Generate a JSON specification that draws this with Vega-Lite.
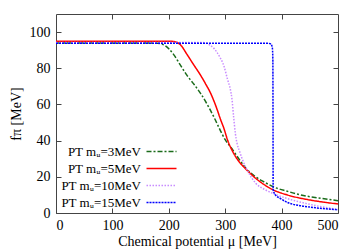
{
  "$schema": "https://vega.github.io/schema/vega-lite/v6.json",
  "width": 282,
  "height": 199,
  "autosize": "none",
  "padding": {"left": 56, "top": 14, "right": 20, "bottom": 38},
  "background": "white",
  "config": {
    "font": "Liberation Serif",
    "view": {"stroke": "#444", "strokeWidth": 1},
    "axis": {
      "grid": false,
      "domain": false,
      "tickColor": "#444",
      "tickSize": -5,
      "labelFont": "Liberation Serif",
      "labelFontSize": 14,
      "labelColor": "#000",
      "titleFont": "Liberation Serif",
      "titleFontSize": 14,
      "titleFontWeight": "normal",
      "titleColor": "#000"
    }
  },
  "datasets": {
    "curves": [
      {"mu": 0, "f": 94.0, "s": "PT mᵤ=3MeV"},
      {"mu": 150, "f": 94.0, "s": "PT mᵤ=3MeV"},
      {"mu": 180, "f": 93.8, "s": "PT mᵤ=3MeV"},
      {"mu": 190, "f": 93.1, "s": "PT mᵤ=3MeV"},
      {"mu": 200, "f": 90.8, "s": "PT mᵤ=3MeV"},
      {"mu": 210, "f": 87.0, "s": "PT mᵤ=3MeV"},
      {"mu": 220, "f": 82.0, "s": "PT mᵤ=3MeV"},
      {"mu": 232, "f": 76.2, "s": "PT mᵤ=3MeV"},
      {"mu": 245, "f": 71.0, "s": "PT mᵤ=3MeV"},
      {"mu": 256, "f": 66.3, "s": "PT mᵤ=3MeV"},
      {"mu": 270, "f": 59.0, "s": "PT mᵤ=3MeV"},
      {"mu": 280, "f": 53.0, "s": "PT mᵤ=3MeV"},
      {"mu": 290, "f": 46.5, "s": "PT mᵤ=3MeV"},
      {"mu": 300, "f": 40.5, "s": "PT mᵤ=3MeV"},
      {"mu": 312, "f": 35.5, "s": "PT mᵤ=3MeV"},
      {"mu": 324, "f": 30.0, "s": "PT mᵤ=3MeV"},
      {"mu": 336, "f": 25.0, "s": "PT mᵤ=3MeV"},
      {"mu": 354, "f": 20.0, "s": "PT mᵤ=3MeV"},
      {"mu": 370, "f": 17.0, "s": "PT mᵤ=3MeV"},
      {"mu": 385, "f": 14.5, "s": "PT mᵤ=3MeV"},
      {"mu": 410, "f": 12.0, "s": "PT mᵤ=3MeV"},
      {"mu": 443, "f": 9.4, "s": "PT mᵤ=3MeV"},
      {"mu": 470, "f": 8.1, "s": "PT mᵤ=3MeV"},
      {"mu": 500, "f": 6.8, "s": "PT mᵤ=3MeV"},

      {"mu": 0, "f": 95.0, "s": "PT mᵤ=5MeV"},
      {"mu": 200, "f": 95.0, "s": "PT mᵤ=5MeV"},
      {"mu": 212, "f": 94.6, "s": "PT mᵤ=5MeV"},
      {"mu": 222, "f": 92.5, "s": "PT mᵤ=5MeV"},
      {"mu": 232, "f": 87.8, "s": "PT mᵤ=5MeV"},
      {"mu": 244, "f": 82.0, "s": "PT mᵤ=5MeV"},
      {"mu": 256, "f": 76.3, "s": "PT mᵤ=5MeV"},
      {"mu": 265, "f": 71.5, "s": "PT mᵤ=5MeV"},
      {"mu": 274, "f": 66.3, "s": "PT mᵤ=5MeV"},
      {"mu": 283, "f": 59.5, "s": "PT mᵤ=5MeV"},
      {"mu": 292, "f": 51.5, "s": "PT mᵤ=5MeV"},
      {"mu": 298, "f": 46.5, "s": "PT mᵤ=5MeV"},
      {"mu": 304, "f": 40.5, "s": "PT mᵤ=5MeV"},
      {"mu": 315, "f": 33.0, "s": "PT mᵤ=5MeV"},
      {"mu": 325, "f": 28.2, "s": "PT mᵤ=5MeV"},
      {"mu": 336, "f": 24.5, "s": "PT mᵤ=5MeV"},
      {"mu": 354, "f": 19.2, "s": "PT mᵤ=5MeV"},
      {"mu": 370, "f": 15.5, "s": "PT mᵤ=5MeV"},
      {"mu": 385, "f": 12.8, "s": "PT mᵤ=5MeV"},
      {"mu": 410, "f": 10.0, "s": "PT mᵤ=5MeV"},
      {"mu": 443, "f": 7.6, "s": "PT mᵤ=5MeV"},
      {"mu": 470, "f": 6.2, "s": "PT mᵤ=5MeV"},
      {"mu": 500, "f": 5.0, "s": "PT mᵤ=5MeV"},

      {"mu": 0, "f": 94.2, "s": "PT mᵤ=10MeV"},
      {"mu": 260, "f": 94.2, "s": "PT mᵤ=10MeV"},
      {"mu": 272, "f": 93.0, "s": "PT mᵤ=10MeV"},
      {"mu": 280, "f": 91.0, "s": "PT mᵤ=10MeV"},
      {"mu": 289, "f": 87.0, "s": "PT mᵤ=10MeV"},
      {"mu": 298, "f": 81.0, "s": "PT mᵤ=10MeV"},
      {"mu": 304, "f": 74.0, "s": "PT mᵤ=10MeV"},
      {"mu": 309, "f": 68.5, "s": "PT mᵤ=10MeV"},
      {"mu": 312, "f": 63.0, "s": "PT mᵤ=10MeV"},
      {"mu": 315, "f": 53.0, "s": "PT mᵤ=10MeV"},
      {"mu": 318, "f": 44.0, "s": "PT mᵤ=10MeV"},
      {"mu": 321, "f": 38.5, "s": "PT mᵤ=10MeV"},
      {"mu": 325, "f": 34.5, "s": "PT mᵤ=10MeV"},
      {"mu": 330, "f": 30.0, "s": "PT mᵤ=10MeV"},
      {"mu": 336, "f": 25.5, "s": "PT mᵤ=10MeV"},
      {"mu": 342, "f": 22.0, "s": "PT mᵤ=10MeV"},
      {"mu": 354, "f": 16.5, "s": "PT mᵤ=10MeV"},
      {"mu": 370, "f": 13.0, "s": "PT mᵤ=10MeV"},
      {"mu": 385, "f": 10.8, "s": "PT mᵤ=10MeV"},
      {"mu": 410, "f": 8.0, "s": "PT mᵤ=10MeV"},
      {"mu": 443, "f": 5.3, "s": "PT mᵤ=10MeV"},
      {"mu": 470, "f": 3.5, "s": "PT mᵤ=10MeV"},
      {"mu": 500, "f": 2.0, "s": "PT mᵤ=10MeV"},

      {"mu": 0, "f": 93.8, "s": "PT mᵤ=15MeV"},
      {"mu": 376, "f": 93.8, "s": "PT mᵤ=15MeV"},
      {"mu": 381, "f": 93.4, "s": "PT mᵤ=15MeV"},
      {"mu": 383.5, "f": 91.5, "s": "PT mᵤ=15MeV"},
      {"mu": 384.5, "f": 85.0, "s": "PT mᵤ=15MeV"},
      {"mu": 384.8, "f": 50.0, "s": "PT mᵤ=15MeV"},
      {"mu": 385.0, "f": 13.0, "s": "PT mᵤ=15MeV"},
      {"mu": 388, "f": 10.5, "s": "PT mᵤ=15MeV"},
      {"mu": 398, "f": 8.0, "s": "PT mᵤ=15MeV"},
      {"mu": 413, "f": 5.5, "s": "PT mᵤ=15MeV"},
      {"mu": 434, "f": 4.0, "s": "PT mᵤ=15MeV"},
      {"mu": 460, "f": 2.9, "s": "PT mᵤ=15MeV"},
      {"mu": 500, "f": 1.8, "s": "PT mᵤ=15MeV"}
    ]
  },
  "data": {"name": "curves"},
  "layer": [
    {
      "mark": {"type": "line", "interpolate": "monotone", "strokeWidth": 1.5, "clip": true},
      "encoding": {
        "x": {
          "field": "mu", "type": "quantitative",
          "scale": {"domain": [0, 500], "nice": false},
          "axis": {"values": [0, 100, 200, 300, 400, 500], "title": "Chemical potential μ [MeV]", "labelPadding": 10, "titlePadding": 2}
        },
        "y": {
          "field": "f", "type": "quantitative",
          "scale": {"domain": [0, 110], "nice": false},
          "axis": {"values": [0, 20, 40, 60, 80, 100], "title": "fπ [MeV]", "labelPadding": 11, "titlePadding": 6}
        },
        "color": {
          "field": "s", "type": "nominal",
          "scale": {
            "domain": ["PT mᵤ=3MeV", "PT mᵤ=5MeV", "PT mᵤ=10MeV", "PT mᵤ=15MeV"],
            "range": ["#1a6b1a", "#ff0000", "#c88cff", "#0000ff"]
          },
          "legend": {
            "orient": "none",
            "legendX": 6,
            "legendY": 131,
            "direction": "vertical",
            "columns": 1,
            "title": null,
            "padding": 0,
            "symbolType": "M-3,0H3",
            "symbolSize": 100,
            "symbolStrokeWidth": 1.5,
            "symbolOffset": 93,
            "labelAlign": "right",
            "labelOffset": -27,
            "labelFont": "Liberation Serif",
            "labelFontSize": 13,
            "labelColor": "#000",
            "labelLimit": 200,
            "rowPadding": 3
          }
        },
        "strokeDash": {
          "field": "s", "type": "nominal",
          "scale": {
            "domain": ["PT mᵤ=3MeV", "PT mᵤ=5MeV", "PT mᵤ=10MeV", "PT mᵤ=15MeV"],
            "range": [[5, 2, 2, 2], [1, 0], [1.5, 1.5], [2, 1]]
          },
          "legend": null
        }
      }
    },
    {
      "mark": {"type": "point", "opacity": 0},
      "encoding": {
        "x": {
          "field": "mu", "type": "quantitative",
          "scale": {"domain": [0, 500], "nice": false},
          "axis": {"orient": "top", "values": [100, 200, 300, 400], "labels": false, "title": null}
        },
        "y": {
          "field": "f", "type": "quantitative",
          "scale": {"domain": [0, 110], "nice": false},
          "axis": {"orient": "right", "values": [20, 40, 60, 80, 100], "labels": false, "title": null}
        }
      }
    }
  ],
  "resolve": {"axis": {"x": "independent", "y": "independent"}}
}
